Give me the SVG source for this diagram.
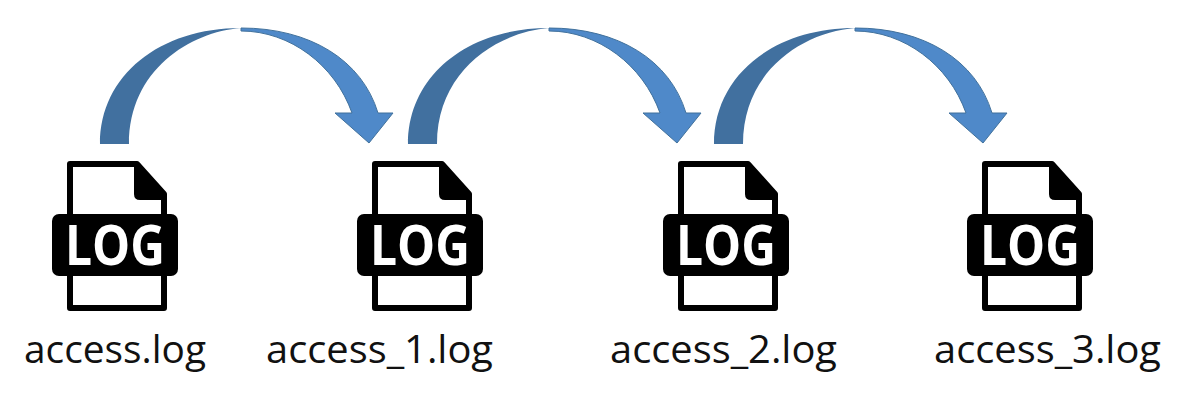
<svg xmlns="http://www.w3.org/2000/svg" xmlns:xlink="http://www.w3.org/1999/xlink" width="1184" height="400" viewBox="0 0 1184 400">
<style>
.dark{fill:#41709f}
.light{fill:#4f89c9;stroke:#41719c;stroke-width:1}
.lbl{font-family:"Open Sans","Liberation Sans",sans-serif;font-size:38px;fill:#111}
.logt{font-family:"Open Sans","Liberation Sans",sans-serif;font-weight:700;font-size:55px;fill:#fff}
</style>
<defs>
<g id="arc">
<path class="dark" d="M100 144C100 75 160 28 241 28C190 32 129 70 129 144Z"/>
<path class="light" d="M241 28C310 28 362 60 378 113H393L369 143L335 113H352C335 65 290 31 241 31Z"/>
</g>
<g id="ic">
<path d="M70 164H137L164 194V308H70Z" fill="#fff" stroke="#000" stroke-width="6" stroke-linejoin="round"/>
<path d="M134 164H138L167 196V200H140Q134 200 134 194Z" fill="#000"/>
<rect x="52" y="214" width="126" height="62" rx="7" fill="#000"/>
</g>
</defs>
<g id="connectors">
<use href="#arc"/>
<use href="#arc" x="308"/>
<use href="#arc" x="614"/>
</g>
<g id="node1"><use href="#ic"/><text class="logt" x="65" y="265" textLength="100" lengthAdjust="spacingAndGlyphs">LOG</text><text class="lbl" x="24" y="363" textLength="182" lengthAdjust="spacingAndGlyphs">access.log</text></g>
<g id="node2"><use href="#ic" x="305"/><text class="logt" x="370" y="265" textLength="100" lengthAdjust="spacingAndGlyphs">LOG</text><text class="lbl" x="266" y="363" textLength="227" lengthAdjust="spacingAndGlyphs">access_1.log</text></g>
<g id="node3"><use href="#ic" x="611"/><text class="logt" x="676" y="265" textLength="100" lengthAdjust="spacingAndGlyphs">LOG</text><text class="lbl" x="610" y="363" textLength="227" lengthAdjust="spacingAndGlyphs">access_2.log</text></g>
<g id="node4"><use href="#ic" x="915"/><text class="logt" x="980" y="265" textLength="100" lengthAdjust="spacingAndGlyphs">LOG</text><text class="lbl" x="934" y="363" textLength="227" lengthAdjust="spacingAndGlyphs">access_3.log</text></g>
</svg>
